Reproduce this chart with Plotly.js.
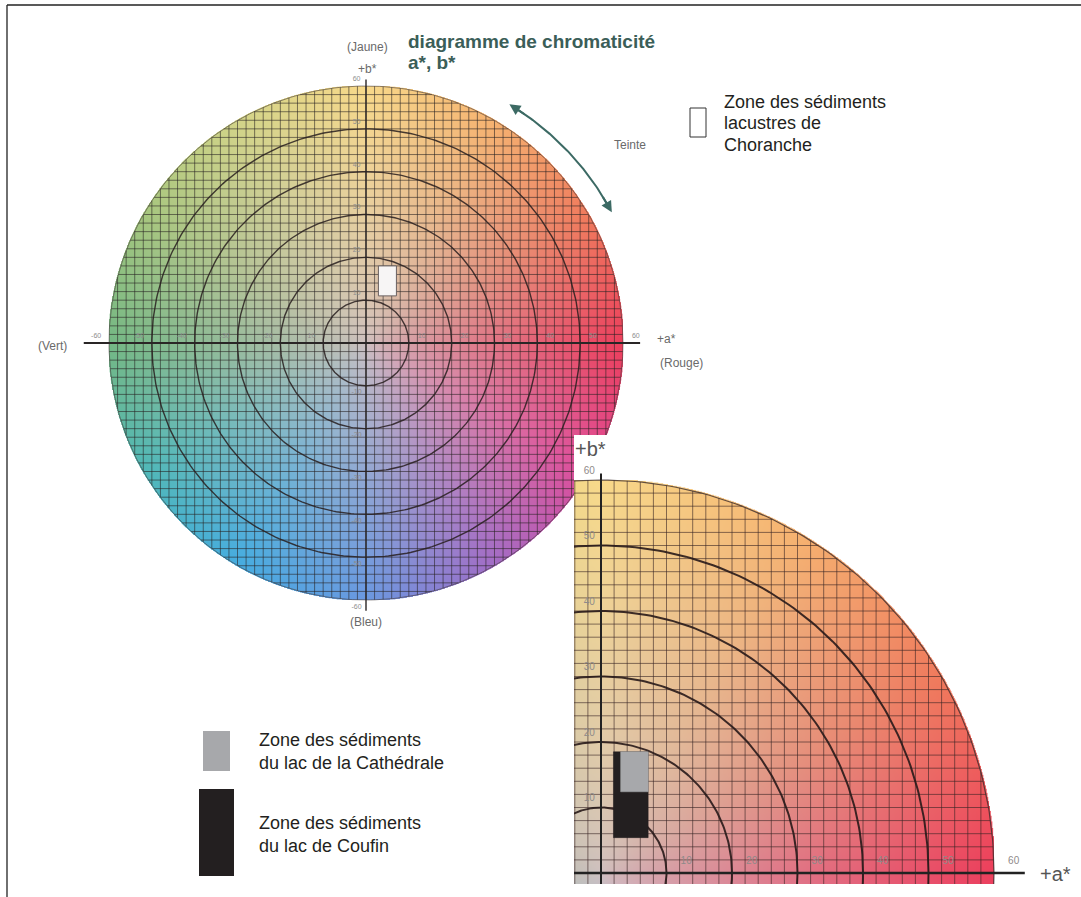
<!DOCTYPE html>
<html><head><meta charset="utf-8">
<script src="https://cdn.plot.ly/plotly-3.0.1.min.js"></script>
<style>html,body{margin:0;padding:0;background:#fff}#chart{width:1081px;height:897px}</style>
</head><body><div id="chart"></div>
<script>
// ---------------- data ----------------
const diskRadius = 60;
const gridStep = 2;
const ringRadii = [10, 20, 30, 40, 50];
const mainTickVals = [-60, -50, -40, -30, -20, -10, 10, 20, 30, 40, 50, 60];
const mainTickText = ['-60', '-50', '-40', '-30', '-20', '-10', '10', '20', '30', '40', '50', '60'];
const zoomTickVals = [10, 20, 30, 40, 50, 60];
const zoomTickText = ['10', '20', '30', '40', '50', '60'];
// sediment zones (a*, b* ranges)
const chorancheA = [2.9, 7.1];
const chorancheB = [11, 18];
const cathedraleA = [3.0, 7.2];
const cathedraleB = [12.4, 18.5];
const coufinA = [1.9, 7.2];
const coufinB = [5.4, 18.5];
// hue arc ("Teinte") in degrees
const teinteAngles = [28, 59];
// colour wheel stops (hue angle -> colour)
const hueAngles = [0, 30, 60, 90, 120, 150, 180, 210, 240, 270, 300, 330, 360];
const hueColors = ['#ec3f5c', '#f07a5c', '#f6b270', '#f8d98a', '#d2d488', '#a6c67e', '#74b884',
                   '#4fb8b8', '#45ace0', '#6a98e0', '#a26cc6', '#df4b98', '#ec3f5c'];
const centerColor = '#cfc0c0';

// ---------------- geometry of the page ----------------
const W = 1081, H = 897;
const mainCx = 366, mainCy = 343, mainK = 4.283;        // big disk
const zoomOx = 601, zoomOy = 873, zoomK = 6.55;         // enlarged quadrant
const panelL = 574, panelT = 435, panelB = 884;
const FONT = 'Liberation Sans, Arial, sans-serif';

function hex2rgb(h) { return [parseInt(h.slice(1, 3), 16), parseInt(h.slice(3, 5), 16), parseInt(h.slice(5, 7), 16)]; }
const hueRGB = hueColors.map(hex2rgb);
const cRGB = hex2rgb(centerColor);

function colourAt(a, b) {
  const r = Math.hypot(a, b);
  let ang = Math.atan2(b, a) * 180 / Math.PI; if (ang < 0) ang += 360;
  let k = 0; while (k < hueAngles.length - 2 && ang > hueAngles[k + 1]) k++;
  const f = (ang - hueAngles[k]) / (hueAngles[k + 1] - hueAngles[k]);
  const h = [0, 1, 2].map(i => hueRGB[k][i] * (1 - f) + hueRGB[k + 1][i] * f);
  const t = Math.min(1, Math.pow(r / diskRadius, 0.75));
  return [0, 1, 2].map(i => Math.round(cRGB[i] * (1 - t) + h[i] * t));
}

function makeDiskImage(px) {
  const c = document.createElement('canvas'); c.width = c.height = px;
  const ctx = c.getContext('2d'); const img = ctx.createImageData(px, px);
  const R = diskRadius;
  for (let j = 0; j < px; j++) {
    for (let i = 0; i < px; i++) {
      const a = -R + (i + 0.5) * 2 * R / px, b = R - (j + 0.5) * 2 * R / px;
      const r = Math.hypot(a, b);
      const o = (j * px + i) * 4;
      if (r > R + 0.2) { img.data[o + 3] = 0; continue; }
      const col = colourAt(a, b);
      img.data[o] = col[0]; img.data[o + 1] = col[1]; img.data[o + 2] = col[2]; img.data[o + 3] = 255;
    }
  }
  ctx.putImageData(img, 0, 0);
  return c.toDataURL('image/png');
}
const diskURL = makeDiskImage(960);

function gridXY(R, step) {
  const xs = [], ys = [];
  for (let v = -R + step; v < R - 1e-9; v += step) {
    const h = Math.sqrt(R * R - v * v);
    xs.push(v, v, null); ys.push(-h, h, null);
    xs.push(-h, h, null); ys.push(v, v, null);
  }
  return { x: xs, y: ys };
}
function ringsXY(radii) {
  const xs = [], ys = [];
  radii.forEach(r => {
    for (let d = 0; d <= 360; d += 1) { xs.push(r * Math.cos(d * Math.PI / 180)); ys.push(r * Math.sin(d * Math.PI / 180)); }
    xs.push(null); ys.push(null);
  });
  return { x: xs, y: ys };
}
function rectXY(A, B) { return { x: [A[0], A[1], A[1], A[0], A[0]], y: [B[0], B[0], B[1], B[1], B[0]] }; }

const grid = gridXY(diskRadius, gridStep);
const rings = ringsXY(ringRadii);
const edge = ringsXY([diskRadius]);

const traces = [];
function add(t) { traces.push(Object.assign({ hoverinfo: 'skip', showlegend: false }, t)); }

// ---- main disk (x, y) ----
add({ type: 'scatter', mode: 'lines', x: grid.x, y: grid.y, xaxis: 'x', yaxis: 'y', line: { color: 'rgba(40,34,34,0.58)', width: 1 } });
add({ type: 'scatter', mode: 'lines', x: rings.x, y: rings.y, xaxis: 'x', yaxis: 'y', line: { color: 'rgba(40,30,30,0.85)', width: 1.4 } });
add({ type: 'scatter', mode: 'lines', x: edge.x, y: edge.y, xaxis: 'x', yaxis: 'y', line: { color: 'rgba(70,60,60,0.6)', width: 1 } });
add({ type: 'scatter', mode: 'lines', x: [-65.9, 64], y: [0, 0], xaxis: 'x', yaxis: 'y', line: { color: '#2a2626', width: 2 } });
add({ type: 'scatter', mode: 'lines', x: [0, 0], y: [61.5, -62.5], xaxis: 'x', yaxis: 'y', line: { color: '#2a2626', width: 1.4 } });
add({ type: 'scatter', mode: 'text', xaxis: 'x', yaxis: 'y',
  x: mainTickVals.map(v => v + 3 * Math.sign(v)), y: mainTickVals.map(() => 1.5), text: mainTickText,
  textfont: { family: FONT, size: 7, color: '#8d8d8d' } });
add({ type: 'scatter', mode: 'text', xaxis: 'x', yaxis: 'y',
  x: mainTickVals.map(() => -2.2), y: mainTickVals.map(v => v + 1.6 * Math.sign(v)), text: mainTickText,
  textfont: { family: FONT, size: 7, color: '#8d8d8d' } });
const ch = rectXY(chorancheA, chorancheB);
add({ type: 'scatter', mode: 'lines', x: ch.x, y: ch.y, xaxis: 'x', yaxis: 'y', fill: 'toself', fillcolor: '#f7f5f5', line: { color: '#6a6060', width: 1 } });
// Teinte arc
const arcX = [], arcY = [];
for (let d = teinteAngles[0] + 1.2; d <= teinteAngles[1] - 1.2; d += 0.5) { arcX.push(65 * Math.cos(d * Math.PI / 180)); arcY.push(65 * Math.sin(d * Math.PI / 180)); }
add({ type: 'scatter', mode: 'lines', x: arcX, y: arcY, xaxis: 'x', yaxis: 'y', line: { color: '#3c6a64', width: 2 } });

// ---- enlarged quadrant (x2, y2) ----
add({ type: 'scatter', mode: 'lines', x: grid.x, y: grid.y, xaxis: 'x2', yaxis: 'y2', line: { color: 'rgba(55,35,35,0.6)', width: 1 } });
add({ type: 'scatter', mode: 'lines', x: rings.x, y: rings.y, xaxis: 'x2', yaxis: 'y2', line: { color: 'rgba(40,25,25,0.9)', width: 2 } });
add({ type: 'scatter', mode: 'lines', x: edge.x, y: edge.y, xaxis: 'x2', yaxis: 'y2', line: { color: 'rgba(60,45,45,0.8)', width: 1.2 } });
add({ type: 'scatter', mode: 'lines', x: [-5, 64.7], y: [0, 0], xaxis: 'x2', yaxis: 'y2', line: { color: '#222', width: 2.4 } });
add({ type: 'scatter', mode: 'lines', x: [0, 0], y: [61, -3], xaxis: 'x2', yaxis: 'y2', line: { color: '#222', width: 2 } });
add({ type: 'scatter', mode: 'text', xaxis: 'x2', yaxis: 'y2',
  x: zoomTickVals.map(v => v + 3), y: zoomTickVals.map(() => 1.7), text: zoomTickText,
  textfont: { family: FONT, size: 10, color: '#8f8a8a' } });
add({ type: 'scatter', mode: 'text', xaxis: 'x2', yaxis: 'y2',
  x: zoomTickVals.map(() => -1.8), y: zoomTickVals.map(v => v + 1.3), text: zoomTickText,
  textfont: { family: FONT, size: 10, color: '#8f8a8a' } });
const cf = rectXY(coufinA, coufinB);
add({ type: 'scatter', mode: 'lines', x: cf.x, y: cf.y, xaxis: 'x2', yaxis: 'y2', fill: 'toself', fillcolor: '#231f20', line: { color: '#231f20', width: 0.5 } });
const ca = rectXY(cathedraleA, cathedraleB);
add({ type: 'scatter', mode: 'lines', x: ca.x, y: ca.y, xaxis: 'x2', yaxis: 'y2', fill: 'toself', fillcolor: '#a7a8ab', line: { color: '#a7a8ab', width: 0.5 } });

// ---------------- layout ----------------
const P = (px, py) => ({ x: px / W, y: 1 - py / H });
const ann = [];
function txt(px, py, text, size, color, xanchor, bold) {
  const p = P(px, py);
  ann.push({ xref: 'paper', yref: 'paper', x: p.x, y: p.y, text: bold ? '<b>' + text + '</b>' : text, showarrow: false,
    xanchor: xanchor || 'center', yanchor: 'middle', font: { family: FONT, size: size, color: color } });
}
txt(406, 42, 'diagramme de chromaticité', 19, '#3b5e58', 'left', true);
txt(406, 63, 'a*, b*', 19, '#3b5e58', 'left', true);
txt(367, 47, '(Jaune)', 12, '#6a6a6a');
txt(367, 69, '+b*', 12, '#6a6a6a');
txt(52, 346, '(Vert)', 12, '#6a6a6a');
txt(666, 339, '+a*', 12, '#6a6a6a');
txt(681, 363, '(Rouge)', 12, '#6a6a6a');
txt(366, 622, '(Bleu)', 12, '#6a6a6a');
txt(630, 145, 'Teinte', 12, '#6a6a6a');
txt(722, 102, 'Zone des sédiments', 18, '#231f20', 'left');
txt(722, 123, 'lacustres de', 18, '#231f20', 'left');
txt(722, 145, 'Choranche', 18, '#231f20', 'left');
txt(257, 740, 'Zone des sédiments', 18, '#231f20', 'left');
txt(257, 763, 'du lac de la Cathédrale', 18, '#231f20', 'left');
txt(257, 823, 'Zone des sédiments', 18, '#231f20', 'left');
txt(257, 846, 'du lac de Coufin', 18, '#231f20', 'left');
txt(590, 449, '+b*', 20, '#555', 'center');
txt(1055, 874, '+a*', 20, '#555', 'center');
// arrowheads of the Teinte arc
function arcPt(d) { return [65 * Math.cos(d * Math.PI / 180), 65 * Math.sin(d * Math.PI / 180)]; }
[[teinteAngles[1], teinteAngles[1] - 4], [teinteAngles[0], teinteAngles[0] + 4]].forEach(([tip, tail]) => {
  const t = arcPt(tip), s = arcPt(tail);
  ann.push({ xref: 'x', yref: 'y', axref: 'x', ayref: 'y', x: t[0], y: t[1], ax: s[0], ay: s[1], text: '',
    showarrow: true, arrowhead: 2, arrowsize: 1.1, arrowwidth: 2, arrowcolor: '#3c6a64', standoff: 0, startstandoff: 0 });
});

function rectShape(px0, py0, px1, py1, fill, line) {
  const a = P(px0, py0), b = P(px1, py1);
  return { type: 'rect', xref: 'paper', yref: 'paper', x0: a.x, y0: a.y, x1: b.x, y1: b.y, fillcolor: fill,
    line: { color: line || fill, width: line ? 1 : 0 }, layer: 'above' };
}
const shapes = [
  rectShape(690, 108, 706, 137, '#ffffff', '#333333'),
  rectShape(203, 731, 230, 771, '#a7a8ab'),
  rectShape(199, 789, 234, 876, '#231f20'),
  { type: 'line', xref: 'paper', yref: 'paper', x0: 7 / W, y0: 1 - 5 / H, x1: 1, y1: 1 - 5 / H, line: { color: '#222', width: 1.3 }, layer: 'above' },
  { type: 'line', xref: 'paper', yref: 'paper', x0: 7 / W, y0: 1 - 5 / H, x1: 7 / W, y1: 0, line: { color: '#222', width: 1.3 }, layer: 'above' }
];

const hidden = { showgrid: false, zeroline: false, showticklabels: false, showline: false, ticks: '', fixedrange: true };
const layout = {
  width: W, height: H, margin: { l: 0, r: 0, t: 0, b: 0, pad: 0 },
  paper_bgcolor: '#ffffff', plot_bgcolor: '#ffffff', hovermode: false, showlegend: false,
  xaxis: Object.assign({ domain: [0, 1], range: [(0 - mainCx) / mainK, (W - mainCx) / mainK], anchor: 'y' }, hidden),
  yaxis: Object.assign({ domain: [0, 1], range: [(mainCy - H) / mainK, mainCy / mainK], anchor: 'x' }, hidden),
  xaxis2: Object.assign({ domain: [panelL / W, 1], range: [(panelL - zoomOx) / zoomK, (W - zoomOx) / zoomK], anchor: 'y2' }, hidden),
  yaxis2: Object.assign({ domain: [1 - panelB / H, 1 - panelT / H], range: [(zoomOy - panelB) / zoomK, (zoomOy - panelT) / zoomK], anchor: 'x2' }, hidden),
  images: [
    { source: diskURL, xref: 'x', yref: 'y', x: -diskRadius, y: diskRadius, sizex: 2 * diskRadius, sizey: 2 * diskRadius,
      sizing: 'stretch', xanchor: 'left', yanchor: 'top', layer: 'below' },
    { source: diskURL, xref: 'x2', yref: 'y2', x: -diskRadius, y: diskRadius, sizex: 2 * diskRadius, sizey: 2 * diskRadius,
      sizing: 'stretch', xanchor: 'left', yanchor: 'top', layer: 'below' }
  ],
  annotations: ann, shapes: shapes
};
Plotly.newPlot('chart', traces, layout, { staticPlot: true, displayModeBar: false });
</script></body></html>
